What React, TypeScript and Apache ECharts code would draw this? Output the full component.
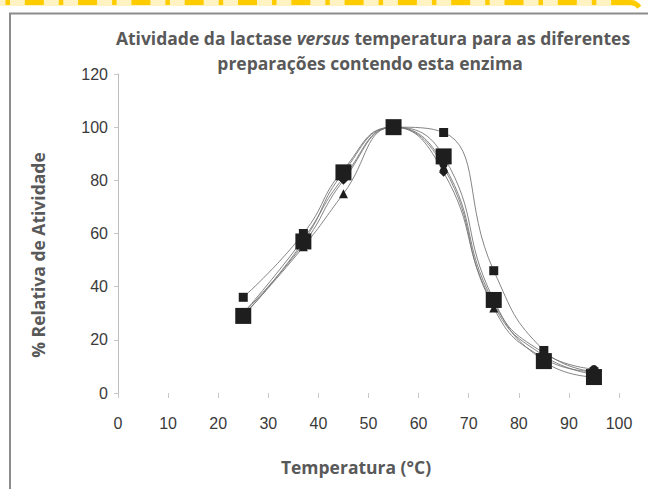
import React, { useEffect, useRef } from "react";
import * as echarts from "echarts";

const temperatures = [25, 37, 45, 55, 65, 75, 85, 95];
const prepA = [29, 57, 83, 100, 89, 35, 12, 6];
const prepB = [36, 60, 84, 100, 98, 46, 16, 8];
const prepC = [30, 56, 80, 100, 83, 33, 14, 7];
const prepD = [29, 55, 75, 100, 85, 32, 13, 8];
const prepE = [30, 58, 81, 100, 86, 34, 15, 9];

const titleLine1a = "Atividade da lactase ";
const titleLine1b = "versus";
const titleLine1c = " temperatura para as diferentes";
const titleLine2 = "preparações contendo esta enzima";
const xName = "Temperatura (°C)";
const yName = "% Relativa de Atividade";

const toPairs = (vals: number[]) => temperatures.map((t, i) => [t, vals[i]]);

const seriesDefs = [
  { name: "B", data: prepB, symbol: "rect", size: 9 },
  { name: "C", data: prepC, symbol: "diamond", size: 9 },
  { name: "D", data: prepD, symbol: "triangle", size: 9 },
  { name: "E", data: prepE, symbol: "circle", size: 8 },
  { name: "A", data: prepA, symbol: "rect", size: 16 },
];

export default function App() {
  const ref = useRef<HTMLDivElement>(null);
  useEffect(() => {
    if (!ref.current) return;
    const chart = echarts.init(ref.current, null, { renderer: "svg" });
    const font = "'Open Sans', sans-serif";
    const fs = 17.5;
    chart.setOption({
      animation: false,
      backgroundColor: "#ffffff",
      grid: { left: 118, right: 29, top: 74, bottom: 96, containLabel: false },
      xAxis: {
        type: "value",
        min: 0,
        max: 100,
        interval: 10,
        axisLine: { show: false },
        axisTick: { show: true, length: 5, lineStyle: { color: "#c8c8c8" } },
        splitLine: { show: false },
        axisLabel: {
          margin: 22,
          color: "#3a3a3a",
          fontFamily: "'Liberation Sans', Arial, sans-serif",
          fontSize: 16,
        },
      },
      yAxis: {
        type: "value",
        min: 0,
        max: 120,
        interval: 20,
        axisLine: { show: true, lineStyle: { color: "#bdbdbd", width: 1 } },
        axisTick: { show: true, length: 4, lineStyle: { color: "#c8c8c8" } },
        splitLine: { show: false },
        axisLabel: {
          margin: 10,
          color: "#3a3a3a",
          fontFamily: "'Liberation Sans', Arial, sans-serif",
          fontSize: 16,
        },
      },
      series: seriesDefs.map((s) => ({
        name: s.name,
        type: "line",
        smooth: 0.5,
        data: toPairs(s.data),
        symbol: s.symbol,
        symbolSize: s.size,
        lineStyle: { color: "#777777", width: 0.9 },
        itemStyle: { color: "#1e1e1e" },
        z: s.name === "A" ? 5 : 2,
      })),
      graphic: [
        {
          type: "line",
          shape: { x1: 0, y1: 2.5, x2: 636, y2: 2.5 },
          style: { stroke: "#fff3c4", lineWidth: 7 },
          silent: true,
        },
        {
          type: "line",
          shape: { x1: -28.5, y1: 2.5, x2: 636, y2: 2.5 },
          style: { stroke: "#ffcc00", lineWidth: 5, lineDash: [19, 15, 4.5, 14.8] },
          silent: true,
        },
        {
          type: "arc",
          shape: { cx: 630, cy: 14, r: 11.5, startAngle: -Math.PI / 2, endAngle: -Math.PI / 5 },
          style: { stroke: "#ffcc00", lineWidth: 5, fill: "none" },
          silent: true,
        },
        {
          type: "rect",
          shape: { x: 10, y: 13.5, width: 800, height: 600 },
          style: { fill: "none", stroke: "#8c8c8c", lineWidth: 2 },
          silent: true,
        },
        {
          type: "text",
          x: 373,
          y: 38,
          style: {
            text: `{n|${titleLine1a}}{i|${titleLine1b}}{n|${titleLine1c}}`,
            align: "center",
            verticalAlign: "middle",
            rich: {
              n: { fontFamily: font, fontWeight: "bold", fontSize: fs, fill: "#595959" },
              i: { fontFamily: font, fontWeight: "bold", fontStyle: "italic", fontSize: fs, fill: "#595959" },
            },
          },
        },
        {
          type: "text",
          x: 370,
          y: 63,
          style: {
            text: titleLine2,
            align: "center",
            verticalAlign: "middle",
            fontFamily: font,
            fontWeight: "bold",
            fontSize: fs,
            fill: "#595959",
          },
        },
        {
          type: "text",
          x: 356,
          y: 467,
          style: {
            text: xName,
            align: "center",
            verticalAlign: "middle",
            fontFamily: font,
            fontWeight: "bold",
            fontSize: fs,
            fill: "#595959",
          },
        },
        {
          type: "text",
          x: 38,
          y: 255,
          rotation: Math.PI / 2,
          style: {
            text: yName,
            align: "center",
            verticalAlign: "middle",
            fontFamily: font,
            fontWeight: "bold",
            fontSize: fs,
            fill: "#595959",
          },
        },
      ],
    });
    return () => chart.dispose();
  }, []);
  return <div ref={ref} style={{ width: 648, height: 489, position: "absolute", left: 0, top: 0 }} />;
}
